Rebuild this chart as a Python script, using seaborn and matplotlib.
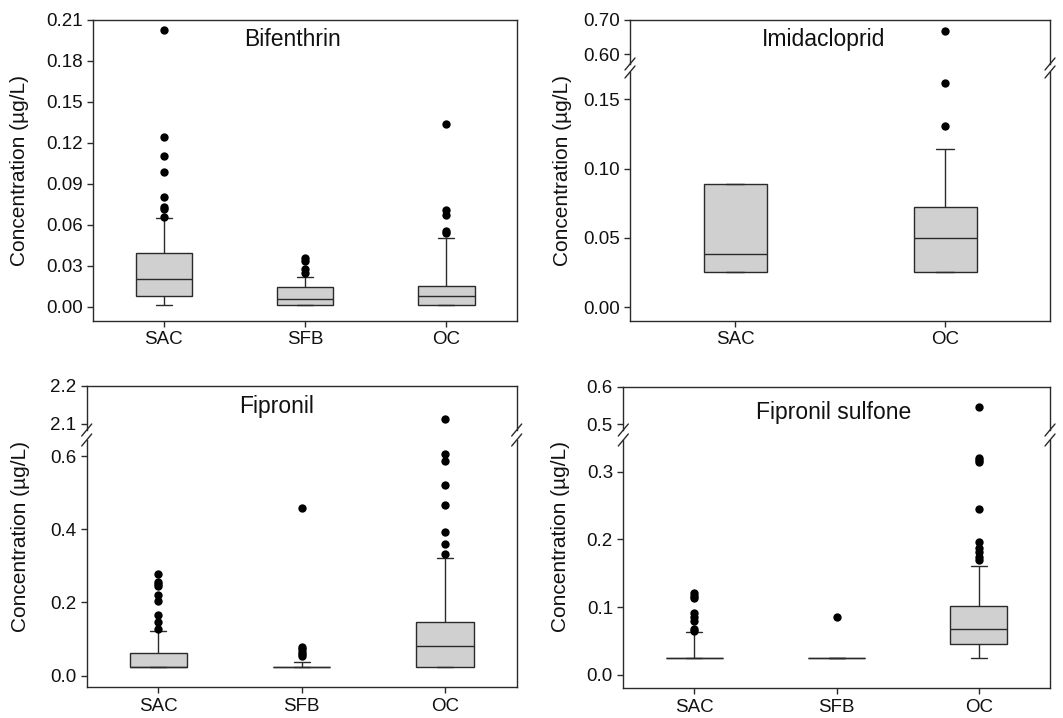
import numpy as np
import pandas as pd
import matplotlib
matplotlib.use("Agg")
import matplotlib.pyplot as plt
from matplotlib.lines import Line2D
from matplotlib.ticker import FormatStrFormatter
import seaborn as sns

sns.set_style("ticks")
plt.rcParams['font.family'] = ['Liberation Sans', 'DejaVu Sans']
plt.rcParams['text.color'] = '#111111'

# ---- data (box = whisker low, Q1, median, Q3, whisker high; plus outliers) ----
bif_sites = ["SAC", "SFB", "OC"]
bif_lo = [0.001, 0.001, 0.001]
bif_q1 = [0.0078, 0.001, 0.001]
bif_med = [0.020, 0.0059, 0.008]
bif_q3 = [0.0395, 0.0146, 0.0151]
bif_hi = [0.065, 0.022, 0.050]
bif_out = [[0.203, 0.124, 0.110, 0.0988, 0.080, 0.0732, 0.0712, 0.0658],
           [0.0354, 0.0337, 0.0274, 0.0249],
           [0.134, 0.0707, 0.067, 0.0556, 0.0537]]

imi_sites = ["SAC", "OC"]
imi_lo = [0.025, 0.025]
imi_q1 = [0.025, 0.025]
imi_med = [0.038, 0.050]
imi_q3 = [0.089, 0.072]
imi_hi = [0.089, 0.114]
imi_out = [[],
           [0.668, 0.162, 0.131]]

fip_sites = ["SAC", "SFB", "OC"]
fip_lo = [0.025, 0.025, 0.025]
fip_q1 = [0.025, 0.025, 0.025]
fip_med = [0.025, 0.025, 0.082]
fip_q3 = [0.061, 0.025, 0.1475]
fip_hi = [0.121, 0.037, 0.3215]
fip_out = [[0.277, 0.257, 0.250, 0.245, 0.220, 0.205, 0.165, 0.1475, 0.128],
           [0.459, 0.079, 0.072, 0.066, 0.059, 0.054],
           [2.112, 0.6056, 0.5856, 0.520, 0.465, 0.3916, 0.3607, 0.3315]]

fps_sites = ["SAC", "SFB", "OC"]
fps_lo = [0.025, 0.025, 0.025]
fps_q1 = [0.025, 0.025, 0.0448]
fps_med = [0.025, 0.025, 0.0675]
fps_q3 = [0.025, 0.025, 0.101]
fps_hi = [0.0626, 0.025, 0.161]
fps_out = [[0.120, 0.116, 0.114, 0.0906, 0.0857, 0.0798, 0.0675, 0.065],
           [0.0857],
           [0.547, 0.3197, 0.3172, 0.3138, 0.2443, 0.1966, 0.1867, 0.181, 0.1744, 0.1695]]

YLABEL = "Concentration (µg/L)"

# ---- style ----
W, H = 1063, 718
BOX_FILL = "#d0d0d0"
LINE = "#2a2a2a"
TICK_FS = 13.5
LABEL_FS = 15
TITLE_FS = 16.5
DOT = 6


def summary_frame(sites, lo, q1, med, q3, hi):
    # five values per site -> quartiles come out exactly, whis=(0,100) puts whiskers at lo/hi
    rows = []
    for i, s in enumerate(sites):
        for v in (lo[i], q1[i], med[i], q3[i], hi[i]):
            rows.append((s, v))
    return pd.DataFrame(rows, columns=["site", "conc"])


def outlier_frame(sites, out):
    rows = [(s, v) for s, vals in zip(sites, out) for v in vals]
    return pd.DataFrame(rows, columns=["site", "conc"])


def add_axes_px(fig, l, t, r, b):
    return fig.add_axes([l / W, 1 - b / H, (r - l) / W, (b - t) / H])


def style_axes(ax, n, ylim, yticks, fmt):
    ax.set_xlim(-0.5, n - 0.5)
    ax.set_ylim(*ylim)
    ax.set_yticks(yticks)
    ax.yaxis.set_major_formatter(FormatStrFormatter(fmt))
    ax.set(xlabel="", ylabel="")
    ax.tick_params(axis="both", direction="out", length=4, width=1, color=LINE,
                   labelsize=TICK_FS, labelcolor="#111111", top=False, right=False)
    for sp in ax.spines.values():
        sp.set_color(LINE)
        sp.set_linewidth(1.0)


def draw_boxes(ax, sites, box_df, out_df, width, capw):
    sns.boxplot(data=box_df, x="site", y="conc", order=sites, whis=(0, 100),
                showfliers=False, width=width, color=BOX_FILL, linecolor=LINE,
                linewidth=1.0, saturation=1, capwidths=capw, ax=ax)
    sns.stripplot(data=out_df, x="site", y="conc", order=sites, jitter=False,
                  color="black", size=DOT, linewidth=0, ax=ax)


def break_marks(fig, xs, y_top, y_bot):
    for x in xs:
        for y in (y_top, y_bot):
            fig.add_artist(Line2D([(x - 5) / W, (x + 5) / W],
                                  [1 - (y + 6) / H, 1 - (y - 6) / H],
                                  color=LINE, lw=1.0))


fig = plt.figure(figsize=(W / 100, H / 100), dpi=100)

# ---- Bifenthrin (single axis) ----
ax1 = add_axes_px(fig, 93.3, 20, 517, 320.7)
draw_boxes(ax1, bif_sites, summary_frame(bif_sites, bif_lo, bif_q1, bif_med, bif_q3, bif_hi),
           outlier_frame(bif_sites, bif_out), 0.4, 0.113)
style_axes(ax1, 3, (-0.0103, 0.21), [0, 0.03, 0.06, 0.09, 0.12, 0.15, 0.18, 0.21], "%.2f")
ax1.set_xticks(range(3))
ax1.set_xticklabels(bif_sites)
fig.text(20 / W, 1 - 170 / H, YLABEL, rotation=90, ha="center", va="center", fontsize=LABEL_FS)
fig.text(293 / W, 1 - 46 / H, "Bifenthrin", ha="center", va="baseline", fontsize=TITLE_FS)


def broken_panel(l, r, t_top, b_top, t_bot, b_bot, sites, lo, q1, med, q3, hi, out,
                 width, capw, ylim_top, ylim_bot, ticks_top, ticks_bot, fmt):
    n = len(sites)
    box_df = summary_frame(sites, lo, q1, med, q3, hi)
    out_df = outlier_frame(sites, out)
    axt = add_axes_px(fig, l, t_top, r, b_top)
    axb = add_axes_px(fig, l, t_bot, r, b_bot)
    sns.stripplot(data=out_df, x="site", y="conc", order=sites, jitter=False,
                  color="black", size=DOT, linewidth=0, ax=axt)
    draw_boxes(axb, sites, box_df, out_df, width, capw)
    style_axes(axt, n, ylim_top, ticks_top, fmt)
    style_axes(axb, n, ylim_bot, ticks_bot, fmt)
    axt.spines["bottom"].set_visible(False)
    axt.tick_params(axis="x", bottom=False, labelbottom=False)
    axb.spines["top"].set_visible(False)
    axb.set_xticks(range(n))
    axb.set_xticklabels(sites)
    break_marks(fig, [l, r], b_top, t_bot)
    return axt, axb


# ---- Imidacloprid ----
broken_panel(630, 1050, 20, 64, 72, 321, imi_sites, imi_lo, imi_q1, imi_med, imi_q3, imi_hi,
             imi_out, 0.3, 0.09, (0.5717, 0.70), (-0.0101, 0.1697),
             [0.6, 0.7], [0, 0.05, 0.10, 0.15], "%.2f")
fig.text(562 / W, 1 - 170 / H, YLABEL, rotation=90, ha="center", va="center", fontsize=LABEL_FS)
fig.text(824 / W, 1 - 46 / H, "Imidacloprid", ha="center", va="baseline", fontsize=TITLE_FS)

# ---- Fipronil ----
broken_panel(86.7, 516.7, 386, 430, 440, 687.3, fip_sites, fip_lo, fip_q1, fip_med, fip_q3, fip_hi,
             fip_out, 0.4, 0.11, (2.0842, 2.2), (-0.0317, 0.6437),
             [2.1, 2.2], [0, 0.2, 0.4, 0.6], "%.1f")
fig.text(21 / W, 1 - 537 / H, YLABEL, rotation=90, ha="center", va="center", fontsize=LABEL_FS)
fig.text(277 / W, 1 - 412.7 / H, "Fipronil", ha="center", va="baseline", fontsize=TITLE_FS)

# ---- Fipronil sulfone ----
broken_panel(623.3, 1050, 386.7, 430, 440, 688.3, fps_sites, fps_lo, fps_q1, fps_med, fps_q3, fps_hi,
             fps_out, 0.4, 0.113, (0.4851, 0.6), (-0.0201, 0.3468),
             [0.5, 0.6], [0, 0.1, 0.2, 0.3], "%.1f")
fig.text(561 / W, 1 - 537 / H, YLABEL, rotation=90, ha="center", va="center", fontsize=LABEL_FS)
fig.text(834 / W, 1 - 419.3 / H, "Fipronil sulfone", ha="center", va="baseline", fontsize=TITLE_FS)

plt.savefig("out.png", dpi=100)
